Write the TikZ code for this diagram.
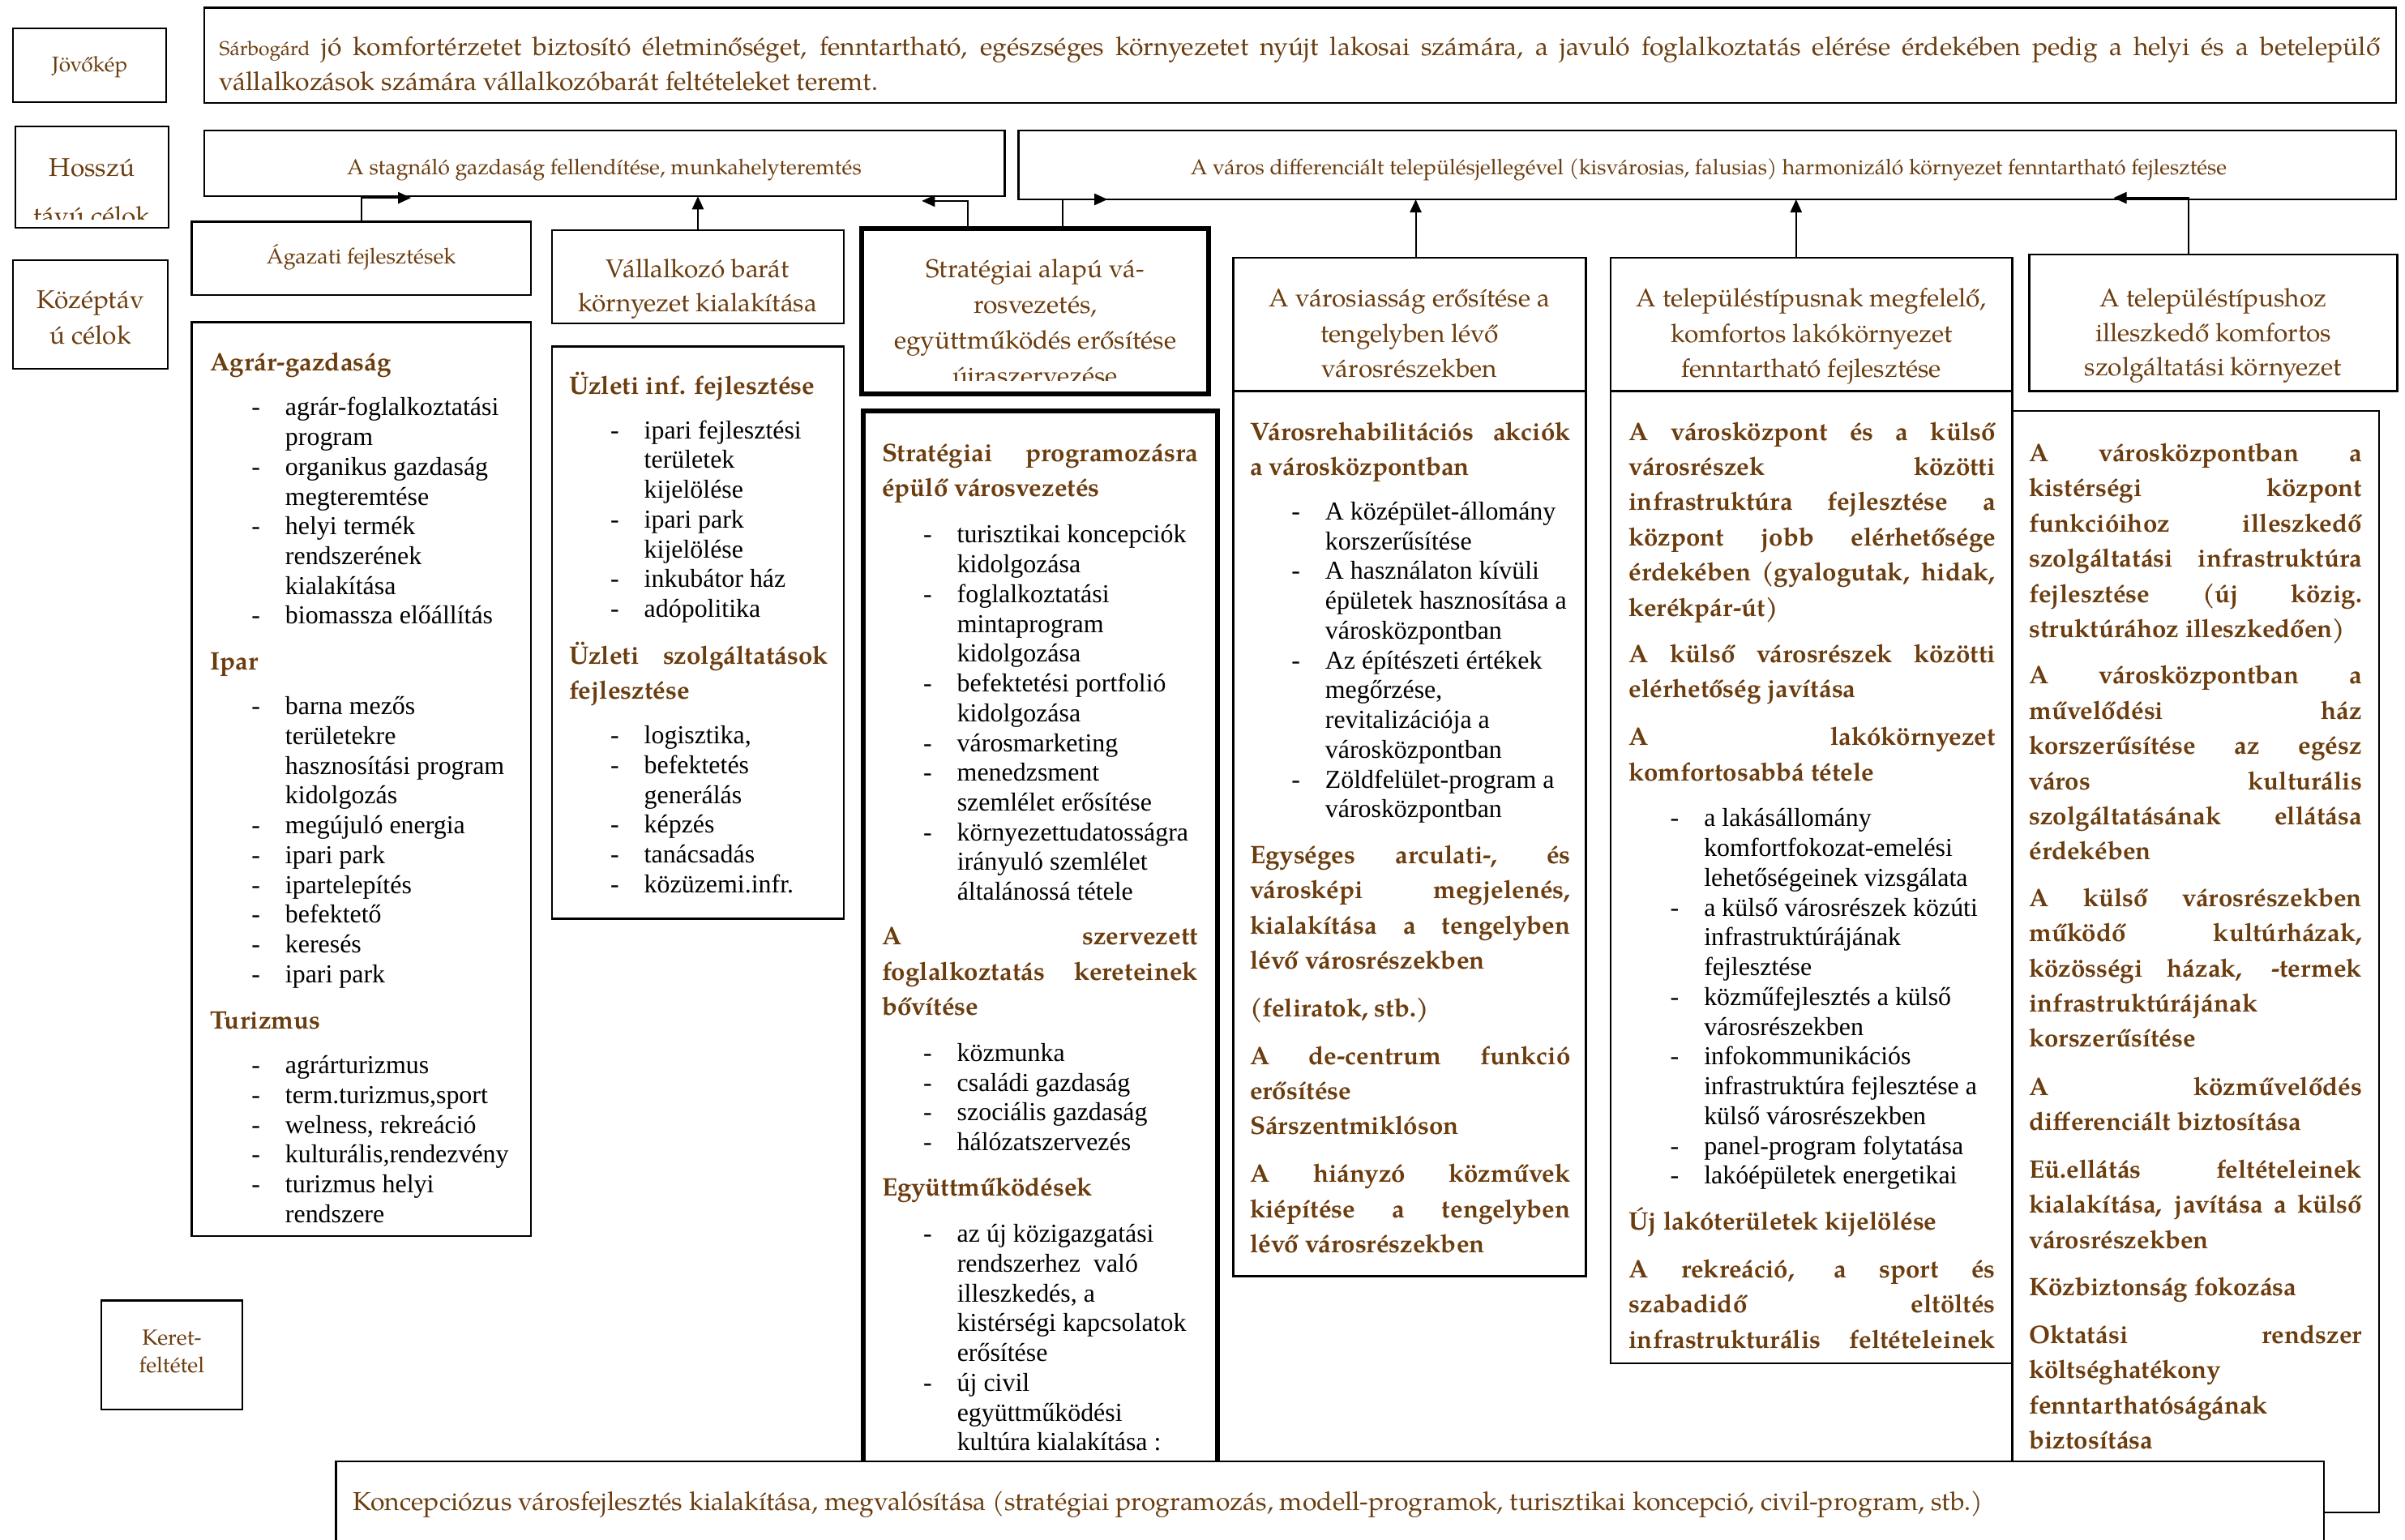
\documentclass[tikz,border=0pt]{standalone}
\usepackage{fontspec}
\setmainfont{Liberation Serif}
\newfontfamily\pal{TeX Gyre Pagella}
\usetikzlibrary{arrows.meta,calc}
\definecolor{brn}{RGB}{107,60,14}
\newlength\px \setlength\px{0.02cm}
\newlength\cw
\newcommand\Bl[1]{\hbox{\hspace*{27\px}\makebox[22\px][l]{-}#1}}
\newcommand\Cl[1]{\hbox{\hspace*{49\px}#1}}
\newcommand\Jl[1]{\hbox to \cw{#1}}
\newcommand\Ll[1]{\hbox{#1}}
\newcommand\Cn[1]{\hbox to \cw{\hfil #1\hfil}}
\tikzset{
 box/.style={draw, line width=0.7pt, inner sep=0pt, outer sep=0pt, rectangle},
 tbox/.style={box, line width=1.8pt},
 txt/.style={inner sep=0pt, outer sep=0pt, anchor=base west},
 ctxt/.style={inner sep=0pt, outer sep=0pt, anchor=base},
 hdr/.style={txt, text=brn, font=\pal\bfseries\fontsize{9.4}{13.05}\selectfont},
 blt/.style={txt, text=black, font=\fontsize{9.6}{11.05}\selectfont},
 ttl/.style={ctxt, text=brn, font=\pal\fontsize{9.5}{13.1}\selectfont},
 sttl/.style={ctxt, text=brn, font=\pal\fontsize{8.1}{10.2}\selectfont},
 arr/.style={line width=0.6pt, -{Triangle[length=0.17cm, width=0.15cm]}},
}
\begin{document}
\begin{tikzpicture}[x=0.02cm, y=-0.02cm]
\clip (0,0) rectangle (1568,1004);
\fill[white] (0,0) rectangle (1568,1004);

% ---- left labels
\node[box, minimum width=100\px, minimum height=48\px] (jovlbl) at (58.5,42.5) {};
\node[sttl, font=\pal\fontsize{7.9}{10}\selectfont] (jovtxt) at (58.5,47) {Jövőkép};
\node[box, minimum width=100\px, minimum height=66\px] (hosszlbl) at (60,115.5) {};
\begin{scope}
\clip (10,82) rectangle (110,143);
\node[ttl] (hossz1) at (60,115) {Hosszú};
\node[ttl] (hossz2) at (60,146.5) {távú célok};
\end{scope}
\node[box, minimum width=101\px, minimum height=71\px] (kozlbl) at (59,205) {};
\node[ttl] (koz1) at (59,201) {Középtáv};
\node[ttl] (koz2) at (59,224.5) {ú célok};
\node[box, minimum width=92\px, minimum height=71\px] (keretlbl) at (112,883.5) {};
\node[sttl] (keret1) at (112,877) {Keret-};
\node[sttl] (keret2) at (112,895) {feltétel};

% ---- vision
\node[box, minimum width=1429\px, minimum height=62\px] (vision) at (847.5,36) {};
\setlength\cw{1409\px}
\node[txt, text=brn, font=\pal\fontsize{9.6}{13.1}\selectfont] (vistxt) at (143,36) {\vtop{%
\Jl{{\fontsize{7.4}{9}\selectfont Sárbogárd} jó komfortérzetet biztosító életminőséget, fenntartható, egészséges környezetet nyújt lakosai számára, a javuló foglalkoztatás elérése érdekében pedig a helyi és a betelepülő}%
\Ll{vállalkozások számára vállalkozóbarát feltételeket teremt.}}};

% ---- long-term goals
\node[box, minimum width=522\px, minimum height=43\px] (cel1) at (394,106.5) {};
\node[sttl, font=\pal\fontsize{8.05}{10}\selectfont] (cel1txt) at (394,114) {A stagnáló gazdaság fellendítése, munkahelyteremtés};
\node[box, minimum width=898\px, minimum height=45\px] (cel2) at (1113,107.5) {};
\node[sttl, font=\pal\fontsize{8.0}{10}\selectfont] (cel2txt) at (1114,114) {A város differenciált településjellegével (kisvárosias, falusias) harmonizáló környezet fenntartható fejlesztése};

% ---- mid-term title boxes
\setlength\cw{240\px}
\node[box, minimum width=221\px, minimum height=48\px] (agazati) at (235.5,168.5) {};
\node[sttl] (agtxt) at (235.5,172) {Ágazati fejlesztések};
\node[box, minimum width=190\px, minimum height=61\px] (vallalk) at (455,180.5) {};
\node[ttl, font=\pal\fontsize{9.5}{12.5}\selectfont] (valtxt) at (455,181) {\vtop{\Cn{Vállalkozó barát}\Cn{környezet kialakítása}}};
\node[tbox, minimum width=226\px, minimum height=108\px] (strat) at (675,203) {};
\begin{scope}
\clip (562,149) rectangle (788,248);
\node[ttl, font=\pal\fontsize{9.5}{13.2}\selectfont] (strtxt) at (675,181) {\vtop{\Cn{Stratégiai alapú vá-}\Cn{rosvezetés,}\Cn{együttműködés erősítése}\Cn{újraszervezése}}};
\end{scope}
\node[box, minimum width=230\px, minimum height=87\px] (varos) at (919,211.5) {};
\node[ttl] (vartxt) at (919,200) {\vtop{\Cn{A városiasság erősítése a}\Cn{tengelyben lévő}\Cn{városrészekben}}};
\node[box, minimum width=262\px, minimum height=87\px] (telep1) at (1181,211.5) {};
\node[ttl] (t1txt) at (1181,200) {\vtop{\Cn{A településtípusnak megfelelő,}\Cn{komfortos lakókörnyezet}\Cn{fenntartható fejlesztése}}};
\node[box, minimum width=240\px, minimum height=89\px] (telep2) at (1443,210.5) {};
\node[ttl, font=\pal\fontsize{9.5}{12.8}\selectfont] (t2txt) at (1443,200) {\vtop{\Cn{A településtípushoz}\Cn{illeszkedő komfortos}\Cn{szolgáltatási környezet}}};

% ---- content boxes
\node[box, minimum width=221\px, minimum height=596\px] (col1) at (235.5,508) {};
\node[box, minimum width=190\px, minimum height=373\px] (col2) at (455,412.5) {};
\node[tbox, minimum width=231\px, minimum height=732\px] (col3) at (678.5,634) {};
\node[box, minimum width=230\px, minimum height=577\px] (col4) at (919,543.5) {};
\node[box, minimum width=262\px, minimum height=634\px] (col5) at (1181,572) {};
\node[box, minimum width=239\px, minimum height=718\px] (col6) at (1431.5,627) {};

% column 1
\setlength\cw{209\px}
\node[hdr] (c1h1) at (137,242) {\vtop{\Ll{Agrár-gazdaság}}};
\node[blt] (c1b1) at (137,271) {\vtop{\Bl{agrár-foglalkoztatási}\Cl{program}\Bl{organikus gazdaság}\Cl{megteremtése}\Bl{helyi termék}\Cl{rendszerének}\Cl{kialakítása}\Bl{biomassza előállítás}}};
\node[hdr] (c1h2) at (137,437) {\vtop{\Ll{Ipar}}};
\node[blt] (c1b2) at (137,466) {\vtop{\Bl{barna mezős}\Cl{területekre}\Cl{hasznosítási program}\Cl{kidolgozás}\Bl{megújuló energia}\Bl{ipari park}\Bl{ipartelepítés}\Bl{befektető}\Bl{keresés}\Bl{ipari park}}};
\node[hdr] (c1h3) at (137,671) {\vtop{\Ll{Turizmus}}};
\node[blt] (c1b3) at (137,700) {\vtop{\Bl{agrárturizmus}\Bl{term.turizmus,sport}\Bl{welness, rekreáció}\Bl{kulturális,rendezvény}\Bl{turizmus helyi}\Cl{rendszere}}};

% column 2
\setlength\cw{169\px}
\node[hdr] (c2h1) at (371,257) {\vtop{\Ll{Üzleti inf. fejlesztése}}};
\node[blt] (c2b1) at (371,286) {\vtop{\Bl{ipari fejlesztési}\Cl{területek}\Cl{kijelölése}\Bl{ipari park}\Cl{kijelölése}\Bl{inkubátor ház}\Bl{adópolitika}}};
\node[hdr] (c2h2) at (371,433) {\vtop{\Jl{Üzleti szolgáltatások}\Ll{fejlesztése}}};
\node[blt] (c2b2) at (371,485) {\vtop{\Bl{logisztika,}\Bl{befektetés}\Cl{generálás}\Bl{képzés}\Bl{tanácsadás}\Bl{közüzemi.infr.}}};

% column 3
\setlength\cw{206\px}
\node[hdr] (c3h1) at (575,301) {\vtop{\Jl{Stratégiai programozásra}\Ll{épülő városvezetés}}};
\node[blt] (c3b1) at (575,354) {\vtop{\Bl{turisztikai koncepciók}\Cl{kidolgozása}\Bl{foglalkoztatási}\Cl{mintaprogram}\Cl{kidolgozása}\Bl{befektetési portfolió}\Cl{kidolgozása}\Bl{városmarketing}\Bl{menedzsment}\Cl{szemlélet erősítése}\Bl{környezettudatosságra}\Cl{irányuló szemlélet}\Cl{általánossá tétele}}};
\node[hdr] (c3h2) at (575,616) {\vtop{\Jl{A szervezett}\Jl{foglalkoztatás kereteinek}\Ll{bővítése}}};
\node[blt] (c3b2) at (575,692) {\vtop{\Bl{közmunka}\Bl{családi gazdaság}\Bl{szociális gazdaság}\Bl{hálózatszervezés}}};
\node[hdr] (c3h3) at (575,780) {\vtop{\Ll{Együttműködések}}};
\node[blt] (c3b3) at (575,810) {\vtop{\Bl{az új közigazgatási}\Cl{rendszerhez\ \ való}\Cl{illeszkedés, a}\Cl{kistérségi kapcsolatok}\Cl{erősítése}\Bl{új civil}\Cl{együttműködési}\Cl{kultúra kialakítása :}}};

% column 4
\setlength\cw{209\px}
\node[hdr] (c4h1) at (815,287) {\vtop{\Jl{Városrehabilitációs akciók}\Ll{a városközpontban}}};
\node[blt] (c4b1) at (815,339) {\vtop{\Bl{A középület-állomány}\Cl{korszerűsítése}\Bl{A használaton kívüli}\Cl{épületek hasznosítása a}\Cl{városközpontban}\Bl{Az építészeti értékek}\Cl{megőrzése,}\Cl{revitalizációja a}\Cl{városközpontban}\Bl{Zöldfelület-program a}\Cl{városközpontban}}};
\node[hdr] (c4h2) at (815,563) {\vtop{\Jl{Egységes arculati-, és}\Jl{városképi megjelenés,}\Jl{kialakítása a tengelyben}\Ll{lévő városrészekben}}};
\node[hdr] (c4h3) at (815,663) {\vtop{\Ll{(feliratok, stb.)}}};
\node[hdr] (c4h4) at (815,694) {\vtop{\Jl{A de-centrum funkció}\Ll{erősítése}\Ll{Sárszentmiklóson}}};
\node[hdr] (c4h5) at (815,771) {\vtop{\Jl{A hiányzó közművek}\Jl{kiépítése a tengelyben}\Ll{lévő városrészekben}}};

% column 5
\setlength\cw{239\px}
\node[hdr] (c5h1) at (1062,287) {\vtop{\Jl{A városközpont és a külső}\Jl{városrészek közötti}\Jl{infrastruktúra fejlesztése a}\Jl{központ jobb elérhetősége}\Jl{érdekében (gyalogutak, hidak,}\Ll{kerékpár-út)}}};
\node[hdr] (c5h2) at (1062,432) {\vtop{\Jl{A külső városrészek közötti}\Ll{elérhetőség javítása}}};
\node[hdr] (c5h3) at (1062,486) {\vtop{\Jl{A lakókörnyezet}\Ll{komfortosabbá tétele}}};
\node[blt] (c5b1) at (1062,539) {\vtop{\Bl{a lakásállomány}\Cl{komfortfokozat-emelési}\Cl{lehetőségeinek vizsgálata}\Bl{a külső városrészek közúti}\Cl{infrastruktúrájának}\Cl{fejlesztése}\Bl{közműfejlesztés a külső}\Cl{városrészekben}\Bl{infokommunikációs}\Cl{infrastruktúra fejlesztése a}\Cl{külső városrészekben}\Bl{panel-program folytatása}\Bl{lakóépületek energetikai}}};
\node[hdr] (c5h4) at (1062,802) {\vtop{\Ll{Új lakóterületek kijelölése}}};
\node[hdr] (c5h5) at (1062,833) {\vtop{\Jl{A rekreáció, a sport és}\Jl{szabadidő eltöltés}\Jl{infrastrukturális feltételeinek}}};

% column 6
\setlength\cw{217\px}
\node[hdr] (c6h1) at (1323,301) {\vtop{\Jl{A városközpontban a}\Jl{kistérségi központ}\Jl{funkcióihoz illeszkedő}\Jl{szolgáltatási infrastruktúra}\Jl{fejlesztése (új közig.}\Ll{struktúrához illeszkedően)}}};
\node[hdr] (c6h2) at (1323,446) {\vtop{\Jl{A városközpontban a}\Jl{művelődési ház}\Jl{korszerűsítése az egész}\Jl{város kulturális}\Jl{szolgáltatásának ellátása}\Ll{érdekében}}};
\node[hdr] (c6h3) at (1323,591) {\vtop{\Jl{A külső városrészekben}\Jl{működő kultúrházak,}\Jl{közösségi házak, -termek}\Ll{infrastruktúrájának}\Ll{korszerűsítése}}};
\node[hdr] (c6h4) at (1323,714) {\vtop{\Jl{A közművelődés}\Ll{differenciált biztosítása}}};
\node[hdr] (c6h5) at (1323,768) {\vtop{\Jl{Eü.ellátás feltételeinek}\Jl{kialakítása, javítása a külső}\Ll{városrészekben}}};
\node[hdr] (c6h6) at (1323,845) {\vtop{\Ll{Közbiztonság fokozása}}};
\node[hdr] (c6h7) at (1323,876) {\vtop{\Jl{Oktatási rendszer}\Ll{költséghatékony}\Ll{fenntarthatóságának}\Ll{biztosítása}}};

% ---- connectors
\draw[arr] (agazati.north) |- ($(cel1.south west)+(135,1)$);
\draw[arr] (vallalk.north) -- (vallalk.north |- cel1.south);
\draw[arr] ($(strat.north west)+(69,0)$) |- ($(cel1.south east)+(-54,3)$);
\draw[arr] ($(strat.north west)+(131,0)$) |- ($(cel2.south west)+(58,0)$);
\draw[arr] ($(varos.north)+(4,0)$) -- ($(varos.north |- cel2.south)+(4,0)$);
\draw[arr] ($(telep1.north)+(-10,0)$) -- ($(telep1.north |- cel2.south)+(-10,0)$);
\draw[arr] ($(telep2.north)+(-16,0)$) |- ($(cel2.south east)+(-184,-1)$);

% ---- bottom frame condition
\node[box, fill=white, minimum width=1296\px, minimum height=90\px] (keretbox) at (867,998) {};
\node[txt, text=brn, font=\pal\fontsize{9.6}{12}\selectfont] (kertxt) at (230,985) {Koncepciózus városfejlesztés kialakítása, megvalósítása (stratégiai programozás, modell-programok, turisztikai koncepció, civil-program, stb.)};
\end{tikzpicture}
\end{document}
